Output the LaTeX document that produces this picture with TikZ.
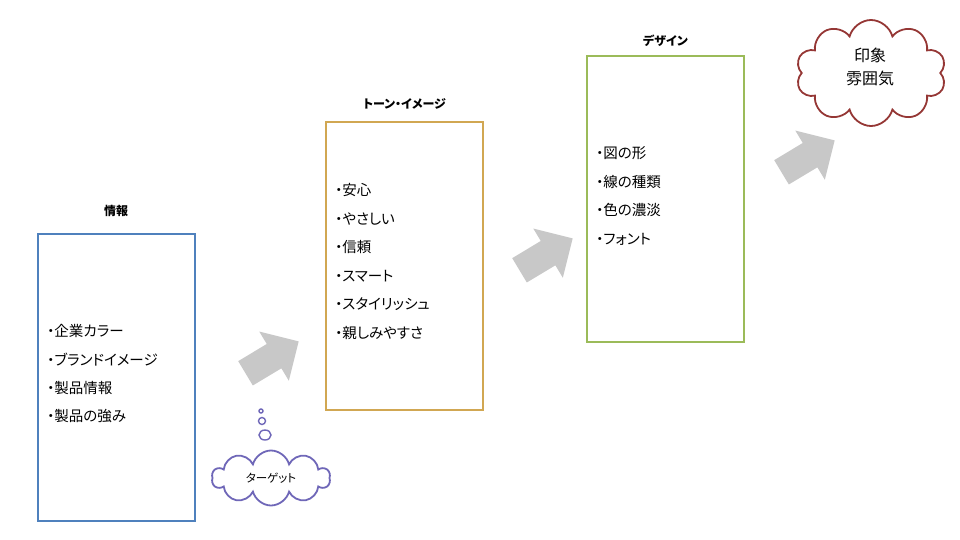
\documentclass[tikz,border=0pt]{standalone}
\usepackage{fontspec}
\setmainfont{Noto Sans CJK JP}[RawFeature={+palt}]
\usetikzlibrary{shapes.arrows,shapes.symbols,shapes.geometric,positioning}

\definecolor{infoblue}{HTML}{4F81BD}
\definecolor{tonegold}{HTML}{D1A752}
\definecolor{designgreen}{HTML}{9BBB59}
\definecolor{cloudred}{HTML}{953735}
\definecolor{cloudviolet}{HTML}{6F67B8}
\definecolor{arrowgrey}{HTML}{C8C8C8}

\tikzset{
  panel/.style={rectangle, line width=2pt, fill=white, minimum width=157pt, inner sep=0pt},
  paneltitle/.style={font=\fontsize{12}{14}\selectfont\bfseries, inner sep=0pt},
  item/.style={anchor=west, font=\fontsize{14.5}{17}\selectfont, inner sep=0pt},
  bigarrow/.style={single arrow, fill=arrowgrey, draw=none, inner xsep=0pt, inner ysep=14pt,
    minimum height=62pt, minimum width=57pt, single arrow head extend=14.5pt},
  thought/.style={cloud, draw, line width=1.8pt, fill=white, inner sep=0pt}
}

\begin{document}
\begin{tikzpicture}[x=1pt, y=-1pt]
  \path[use as bounding box] (0,0) rectangle (960,540);

  % ---- three panels ----
  \node[panel, draw=infoblue, minimum height=287pt] (info) at (116,377.5) {};
  \node[panel, draw=tonegold, minimum height=288pt] (tone) at (404.5,266) {};
  \node[panel, draw=designgreen, minimum height=286pt] (design) at (665.5,199) {};

  \node[paneltitle, above=16pt of info] (infotitle) {情報};
  \node[paneltitle, above=12pt of tone] (tonetitle) {トーン・イメージ};
  \node[paneltitle, above=8pt of design] (designtitle) {デザイン};

  % ---- panel items ----
  \foreach \txt [count=\i] in {企業カラー, ブランドイメージ, 製品情報, 製品の強み} {
    \pgfmathsetmacro{\yy}{331+(\i-1)*28.5}
    \node[item] (info-\i) at (47,\yy) {・\txt};
  }
  \foreach \txt [count=\i] in {安心, やさしい, 信頼, スマート, スタイリッシュ, 親しみやすさ} {
    \pgfmathsetmacro{\yy}{190+(\i-1)*28.6}
    \node[item] (tone-\i) at (335,\yy) {・\txt};
  }
  \foreach \txt [count=\i] in {図の形, 線の種類, 色の濃淡, フォント} {
    \pgfmathsetmacro{\yy}{153+(\i-1)*28.7}
    \node[item] (design-\i) at (596,\yy) {・\txt};
  }

  % ---- grey block arrows ----
  \node[bigarrow, rotate=31] (arrow1) at (266,361) {};
  \node[bigarrow, rotate=31] (arrow2) at (540,258) {};
  \node[bigarrow, rotate=31] (arrow3) at (802,160) {};

  % ---- clouds ----
  \node[thought, draw=cloudred, cloud puffs=10, aspect=1.4,
        minimum width=150pt, minimum height=106pt] (mood) at (871,73) {};
  \node[font=\fontsize{16}{23}\selectfont, align=center] (moodtext) at (870,67) {印象\\雰囲気};

  \node[thought, draw=cloudviolet, cloud puffs=10, aspect=2.2,
        minimum width=118pt, minimum height=55pt] (target) at (271,478) {};
  \node[font=\fontsize{11.5}{13}\selectfont] (targettext) at (target.center) {ターゲット};

  % thought bubbles
  \node[circle, draw=cloudviolet, line width=1.4pt, minimum size=4pt, inner sep=0pt] (dot1) at (261,411) {};
  \node[circle, draw=cloudviolet, line width=1.4pt, minimum size=7pt, inner sep=0pt] (dot2) at (262,421) {};
  \node[ellipse, draw=cloudviolet, line width=1.4pt, minimum width=12pt, minimum height=10pt, inner sep=0pt] (dot3) at (265,435) {};

\end{tikzpicture}
\end{document}
